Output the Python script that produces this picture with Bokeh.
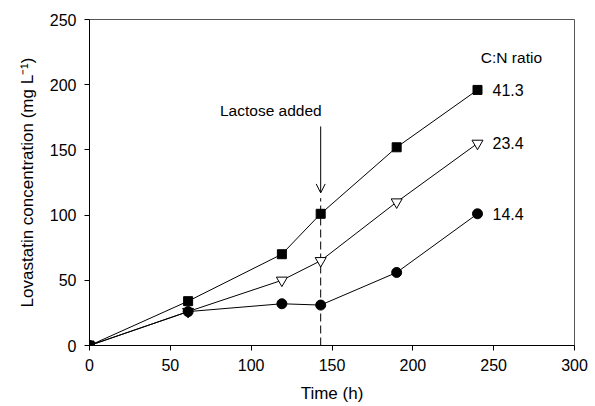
from bokeh.plotting import figure
from bokeh.models import Range1d, Arrow, OpenHead, FixedTicker
from bokeh.core.properties import value
from bokeh.embed import file_html
from bokeh.resources import INLINE

# Data
time_h = [0, 61, 119, 143, 190, 240]
cn_41_3 = [0, 34, 70, 101, 152, 196]
cn_23_4 = [0, 26, 50, 65, 110, 155]
cn_14_4 = [0, 26, 32, 31, 56, 101]
series_labels = ["41.3", "23.4", "14.4"]
x_ticks = [0, 50, 100, 150, 200, 250, 300]
y_ticks = [0, 50, 100, 150, 200, 250]

lactose_time = 143
arrow_top = 168
arrow_tip = 117
dash_top = 113
lactose_label_y = 180
legend_title = "C:N ratio"
legend_title_x = 261
legend_title_y = 221

FONT = "Liberation Sans"

p = figure(width=595, height=406, output_backend="svg", toolbar_location=None,
           x_range=Range1d(0, 300), y_range=Range1d(0, 250),
           min_border_left=89, min_border_right=21, min_border_top=19, min_border_bottom=61)
p.grid.visible = False
p.outline_line_color = "#555555"
p.outline_line_width = 1
p.background_fill_color = "white"
p.border_fill_color = "white"

for ax in (p.xaxis[0], p.yaxis[0]):
    ax.major_label_text_font = FONT
    ax.major_label_text_font_size = "16px"
    ax.major_label_text_color = "black"
    ax.axis_label_text_font = FONT
    ax.axis_label_text_font_size = "17px"
    ax.axis_label_text_font_style = "normal"
    ax.axis_label_text_color = "black"
    ax.axis_line_color = "black"
    ax.major_tick_line_color = "black"
    ax.major_tick_in = 0
    ax.major_tick_out = 5
    ax.minor_tick_line_color = None

p.xaxis.ticker = FixedTicker(ticks=x_ticks)
p.yaxis.ticker = FixedTicker(ticks=y_ticks)
p.xaxis.axis_label = "Time (h)"
p.yaxis.axis_label = "Lovastatin concentration (mg L\u207b\u00b9)"
p.xaxis.major_label_standoff = 8
p.yaxis.major_label_standoff = 8
p.xaxis.axis_label_standoff = 10
p.yaxis.axis_label_standoff = 10

# Dashed line and arrow for lactose addition
p.segment(x0=[lactose_time], y0=[0], x1=[lactose_time], y1=[dash_top],
          line_color="black", line_width=1, line_dash="8 4")
p.add_layout(Arrow(end=OpenHead(size=9, line_color="black", line_width=1),
                   x_start=lactose_time, y_start=arrow_top,
                   x_end=lactose_time, y_end=arrow_tip,
                   line_color="black", line_width=1))
p.text(x=[lactose_time], y=[lactose_label_y], text=["Lactose added"],
       text_font=value(FONT), text_font_size="15.5px", text_align="right",
       text_baseline="middle", text_color="black", x_offset=1)

# Series
p.line(time_h, cn_41_3, line_color="black", line_width=1)
p.line(time_h, cn_23_4, line_color="black", line_width=1)
p.line(time_h, cn_14_4, line_color="black", line_width=1)
p.scatter(time_h, cn_41_3, marker="square", size=9, fill_color="black", line_color="black")
p.scatter(time_h, cn_23_4, marker="inverted_triangle", size=11, fill_color="white", line_color="black")
p.scatter(time_h, cn_14_4, marker="circle", size=10, fill_color="black", line_color="black")

last_x = [time_h[-1]] * 3
last_y = [cn_41_3[-1], cn_23_4[-1], cn_14_4[-1]]
p.text(x=last_x, y=last_y, text=series_labels, text_font=value(FONT),
       text_font_size="16px", text_align="left", text_baseline="middle",
       text_color="black", x_offset=15)
p.text(x=[legend_title_x], y=[legend_title_y], text=[legend_title], text_font=value(FONT),
       text_font_size="15.5px", text_align="center", text_baseline="middle", text_color="black")

open("out.html", "w").write(file_html(p, INLINE))
